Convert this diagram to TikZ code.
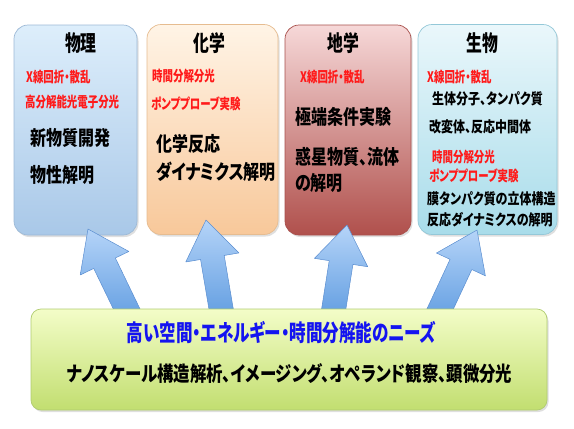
\documentclass[tikz,border=0pt]{standalone}
\usepackage{fontspec}
\IfFontExistsTF{Noto Sans CJK JP Black}{%
        \newfontfamily\jp{Noto Sans CJK JP}[FakeStretch=0.8,RawFeature=+palt,BoldFont={Noto Sans CJK JP Black}]
        \newfontfamily\jpnarrow{Noto Sans CJK JP}[FakeStretch=0.72,RawFeature=+palt,BoldFont={Noto Sans CJK JP Black}]}{%
        \newfontfamily\jp{Noto Sans CJK JP}[FakeStretch=0.8,RawFeature=+palt]
        \newfontfamily\jpnarrow{Noto Sans CJK JP}[FakeStretch=0.72,RawFeature=+palt]}
\usetikzlibrary{calc,shadows}

\definecolor{phystop}{HTML}{DDEEFB}
\definecolor{physbot}{HTML}{A9C8E8}
\definecolor{physline}{HTML}{9DB9D6}
\definecolor{chemtop}{HTML}{FFF4E6}
\definecolor{chembot}{HTML}{F8C89A}
\definecolor{chemline}{HTML}{E6BC90}
\definecolor{geotop}{HTML}{F6D8D8}
\definecolor{geobot}{HTML}{B0504C}
\definecolor{geoline}{HTML}{A8504C}
\definecolor{biotop}{HTML}{EAF7FB}
\definecolor{biobot}{HTML}{A8DCEA}
\definecolor{bioline}{HTML}{94C8D8}
\definecolor{needtop}{HTML}{F3FDC8}
\definecolor{needbot}{HTML}{C2DE70}
\definecolor{needline}{HTML}{B0CC70}
\definecolor{beamtop}{HTML}{B5D4F8}
\definecolor{beambot}{HTML}{5E9BE0}
\definecolor{beamline}{HTML}{5B8ED0}
\definecolor{methodred}{HTML}{FF1A1A}
\definecolor{needblue}{HTML}{1414F0}

\begin{document}
\begin{tikzpicture}[line join=round,x=1pt,y=-1pt,
        field/.style={rounded corners=14pt,line width=0.7pt,minimum height=210pt,
                drop shadow={shadow xshift=1.5pt,shadow yshift=-2pt,opacity=0.25}},
        head/.style={inner sep=0pt,font=\jpnarrow\bfseries\fontsize{22}{24}\selectfont},
        method/.style={anchor=west,inner sep=0pt,text=methodred,font=\jpnarrow\bfseries\fontsize{14.5}{16}\selectfont},
        topic/.style={anchor=west,inner sep=0pt,font=\jp\bfseries\fontsize{20}{22}\selectfont},
        subtopic/.style={anchor=west,inner sep=0pt,font=\jp\bfseries\fontsize{15}{17}\selectfont},
        beam/.style={top color=beamtop,bottom color=beambot,draw=beamline,line width=0.5pt}]
        \useasboundingbox (0,0) rectangle (574,429);
        \node [field,minimum width=123pt,top color=phystop,bottom color=physbot,draw=physline] (phys) at (75.5,130) {};
        \node [field,minimum width=131pt,top color=chemtop,bottom color=chembot,draw=chemline] (chem) at (212.5,129.5) {};
        \node [field,minimum width=126pt,top color=geotop,bottom color=geobot,draw=geoline] (geo) at (348,130) {};
        \node [field,minimum width=139pt,top color=biotop,bottom color=biobot,draw=bioline] (bio) at (487.5,129.5) {};
        \node [head] (physhead) at (81,43) {物理};
        \node [method] (phys1) at (26,77) {X線回折・散乱};
        \node [method] (phys2) at (25,102) {高分解能光電子分光};
        \node [topic] (phys3) at (30,138) {新物質開発};
        \node [topic] (phys4) at (30,175) {物性解明};
        \node [head] (chemhead) at (209,43) {化学};
        \node [method] (chem1) at (152,76) {時間分解分光};
        \node [method] (chem2) at (151,104) {ポンププローブ実験};
        \node [topic] (chem3) at (156,144) {化学反応};
        \node [topic] (chem4) at (156,172) {ダイナミクス解明};
        \node [head] (geohead) at (343,43) {地学};
        \node [method] (geo1) at (300,77) {X線回折・散乱};
        \node [topic] (geo2) at (295,117) {極端条件実験};
        \node [topic] (geo3) at (295,157) {惑星物質、流体};
        \node [topic] (geo4) at (295,183) {の解明};
        \node [head] (biohead) at (482,43) {生物};
        \node [method] (bio1) at (427,77) {X線回折・散乱};
        \node [subtopic] (bio2) at (432,99) {生体分子、タンパク質};
        \node [subtopic] (bio3) at (429,127) {改変体、反応中間体};
        \node [method] (bio4) at (432,157) {時間分解分光};
        \node [method] (bio5) at (429,176) {ポンププローブ実験};
        \node [subtopic] (bio6) at (427,199) {膜タンパク質の立体構造};
        \node [subtopic] (bio7) at (427,220) {反応ダイナミクスの解明};
        \coordinate (s1) at (132,320);
        \coordinate (t1) at (88,229);
        \coordinate (s2) at (223,320);
        \coordinate (t2) at (206,220);
        \coordinate (s3) at (332,320);
        \coordinate (t3) at (347,225);
        \coordinate (s4) at (435,320);
        \coordinate (t4) at (477,230);
        \foreach \i in {1,...,4}{
                \coordinate (n\i) at ($(t\i)!38pt!(s\i)$);
                \draw [beam] ($(s\i)!12pt!90:(t\i)$) -- ($(n\i)!12pt!90:(t\i)$) -- ($(n\i)!27pt!90:(t\i)$)
                        -- (t\i) -- ($(n\i)!27pt!-90:(t\i)$) -- ($(n\i)!12pt!-90:(t\i)$) -- ($(s\i)!12pt!-90:(t\i)$) -- cycle;
        }
        \node [field,rounded corners=10pt,minimum width=516pt,minimum height=101pt,top color=needtop,bottom color=needbot,draw=needline] (needs) at (289,359.5) {};
        \node [inner sep=0pt,text=needblue,font=\jpnarrow\bfseries\fontsize{23}{25}\selectfont] (needs1) at (281.5,333) {高い空間・エネルギー・時間分解能のニーズ};
        \node [inner sep=0pt,font=\jp\bfseries\fontsize{20.5}{23}\selectfont] (needs2) at (289.5,374) {ナノスケール構造解析、イメージング、オペランド観察、顕微分光};
\end{tikzpicture}
\end{document}
